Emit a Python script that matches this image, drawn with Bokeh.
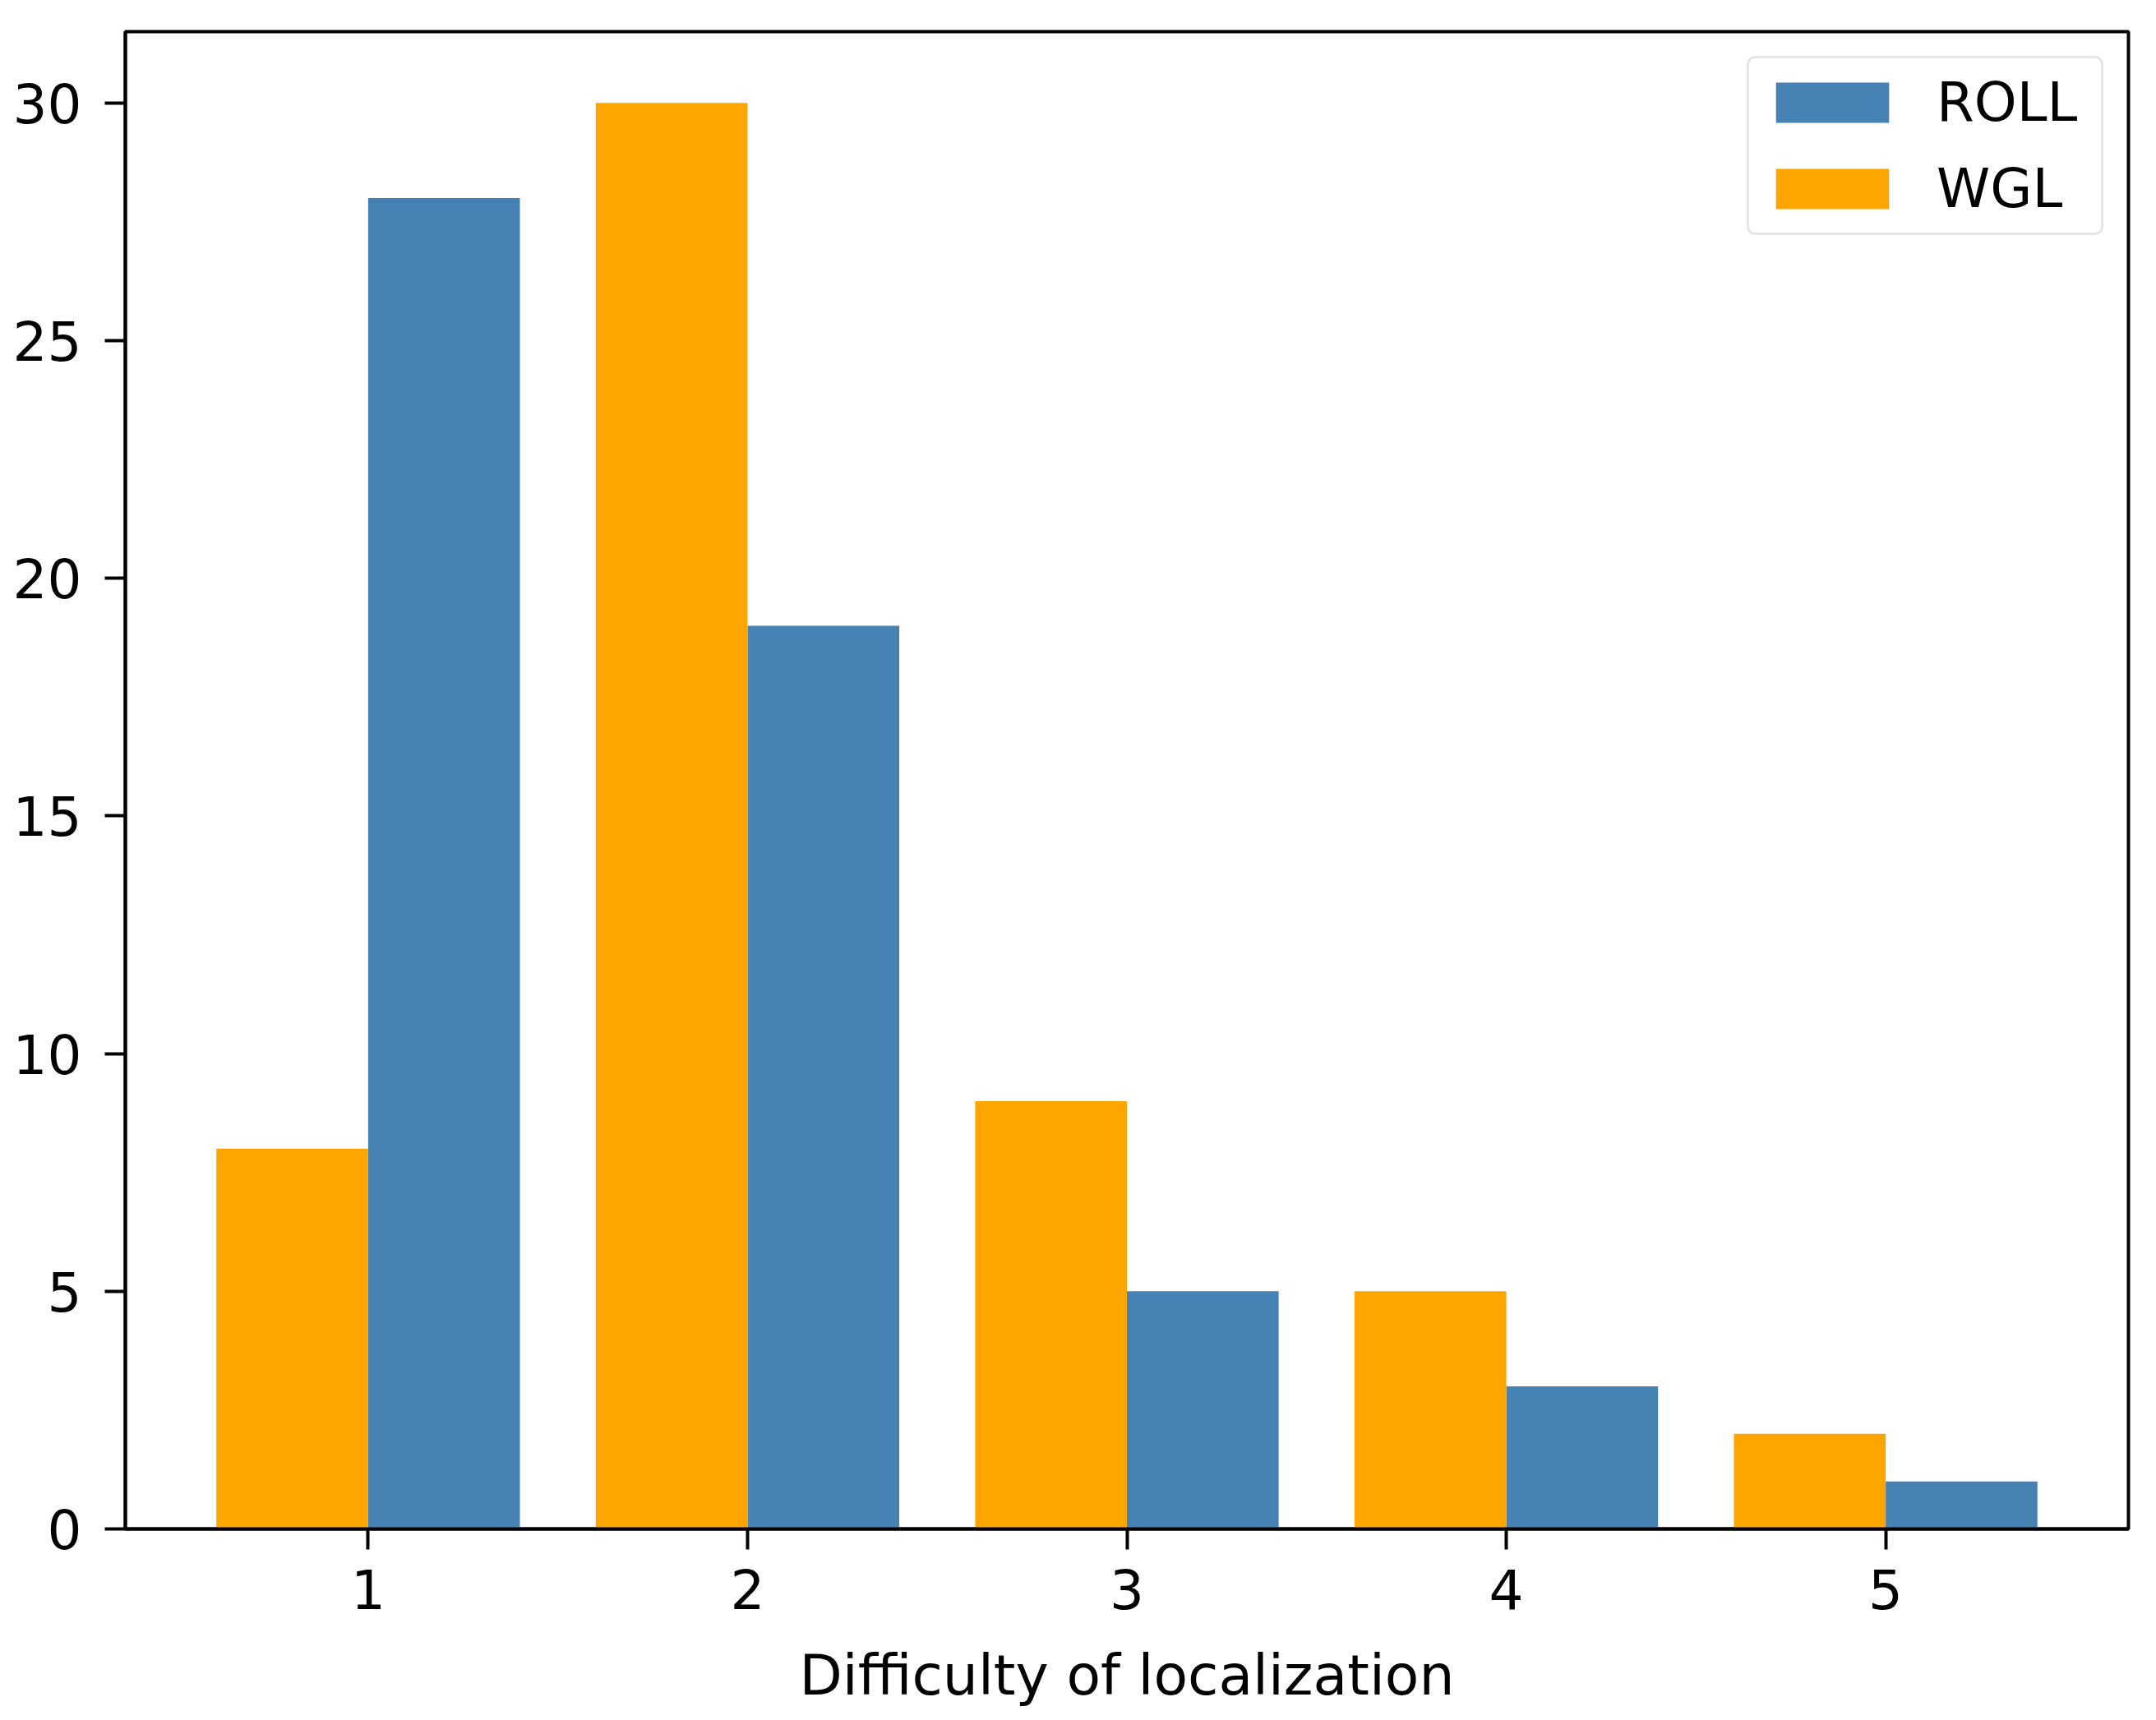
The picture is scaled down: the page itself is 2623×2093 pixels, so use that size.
from bokeh.plotting import figure
from bokeh.models import Range1d, FixedTicker, ColumnDataSource
from bokeh.transform import dodge
from bokeh.embed import file_html
from bokeh.resources import INLINE

# ---- data ----
difficulty = [1, 2, 3, 4, 5]
roll_counts = [28, 19, 5, 3, 1]
wgl_counts = [8, 30, 9, 5, 2]
series_names = ["ROLL", "WGL"]
series_colors = ["#4682B4", "#FFA500"]
y_ticks = [0, 5, 10, 15, 20, 25, 30]
x_label = "Difficulty of localization"

src = ColumnDataSource(dict(x=difficulty, roll=roll_counts, wgl=wgl_counts))

FONT = "DejaVu Sans"
FS = "66px"

p = figure(
    output_backend="svg", toolbar_location=None,
    frame_width=2437, frame_height=1822,
    min_border_left=152, min_border_top=38, min_border_right=34, min_border_bottom=233,
    x_range=Range1d(0.36, 5.64), y_range=Range1d(0, 31.5),
    background_fill_color="white", border_fill_color="white",
)

p.vbar(x=dodge("x", 0.2, range=p.x_range), top="roll", width=0.4, source=src,
       fill_color=series_colors[0], line_color=None, legend_label=series_names[0])
p.vbar(x=dodge("x", -0.2, range=p.x_range), top="wgl", width=0.4, source=src,
       fill_color=series_colors[1], line_color=None, legend_label=series_names[1])

p.xgrid.visible = False
p.ygrid.visible = False
p.outline_line_color = "black"
p.outline_line_width = 4
p.outline_line_alpha = 1.0

p.xaxis.ticker = FixedTicker(ticks=difficulty)
p.yaxis.ticker = FixedTicker(ticks=y_ticks)
for ax in (p.xaxis, p.yaxis):
    ax.axis_line_width = 4
    ax.axis_line_color = "black"
    ax.major_tick_line_width = 4
    ax.major_tick_line_color = "black"
    ax.major_tick_out = 25
    ax.major_tick_in = 0
    ax.minor_tick_line_color = None
    ax.major_label_text_font = FONT
    ax.major_label_text_font_size = FS
    ax.major_label_text_color = "black"
    ax.axis_label_text_font = FONT
    ax.axis_label_text_font_size = "68px"
    ax.axis_label_text_font_style = "normal"
    ax.axis_label_text_color = "black"

p.xaxis.major_label_standoff = 23
p.yaxis.major_label_standoff = 28
p.xaxis.axis_label = x_label
p.xaxis.axis_label_standoff = 38

lg = p.legend[0]
lg.location = "top_right"
lg.margin = 30
lg.padding = 15
lg.spacing = 28
lg.glyph_width = 172
lg.glyph_height = 61
lg.label_standoff = 41
lg.label_width = 185
lg.label_text_font = FONT
lg.label_text_font_size = FS
lg.label_text_color = "black"
lg.border_line_color = "#cccccc"
lg.border_line_width = 3
lg.background_fill_color = "white"
lg.background_fill_alpha = 0.8
if "border_radius" in lg.properties():
    lg.border_radius = 10

open("out.html", "w").write(file_html(p, INLINE))
